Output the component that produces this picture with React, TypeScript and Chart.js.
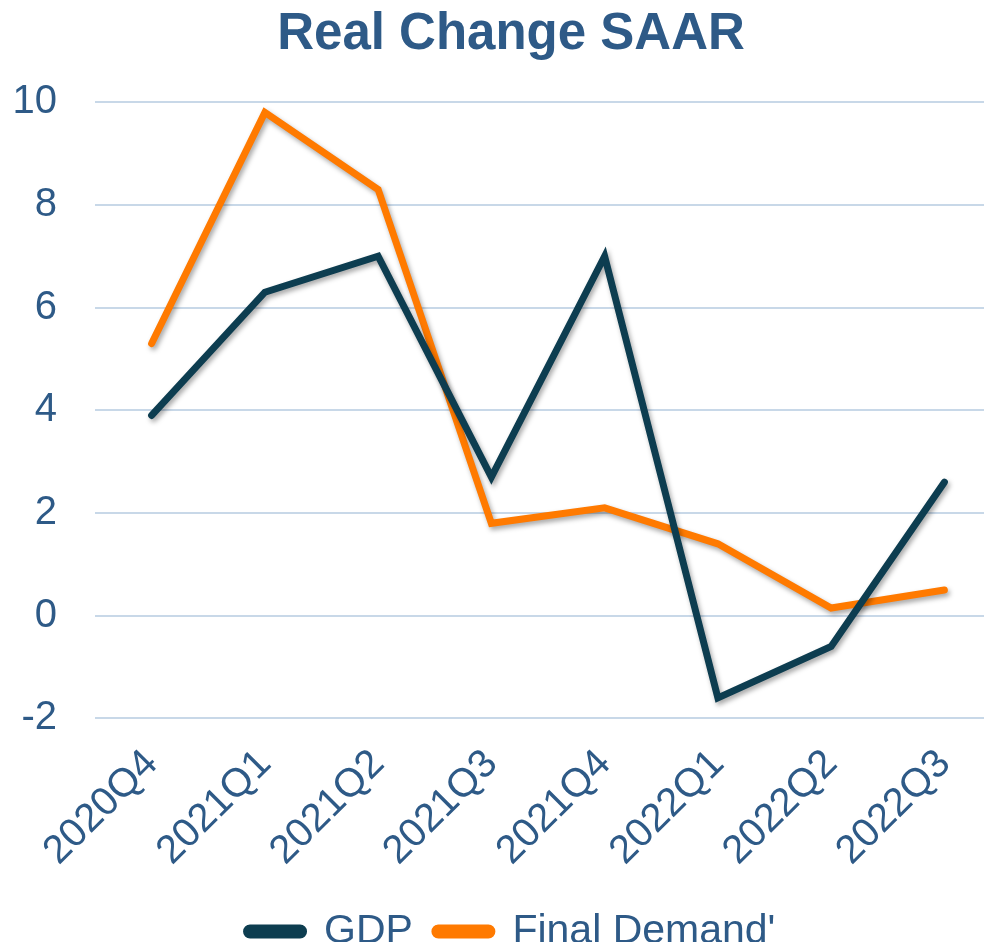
import React, { useEffect, useRef } from "react";
import { Chart, registerables } from "chart.js";

Chart.register(...registerables);

const categories = ["2020Q4", "2021Q1", "2021Q2", "2021Q3", "2021Q4", "2022Q1", "2022Q2", "2022Q3"];
const gdp = [3.9, 6.3, 7.0, 2.7, 7.0, -1.6, -0.6, 2.6];
const finalDemand = [5.3, 9.8, 8.3, 1.8, 2.1, 1.4, 0.15, 0.5];
const seriesNames = ["GDP", "Final Demand'"];
const titleText = "Real Change SAAR";

const textColor = "#2E5A87";
const font = "'Liberation Sans', Arial, sans-serif";

const shadowPlugin = {
  id: "lineShadow",
  beforeDatasetsDraw(chart: any) {
    const ctx = chart.ctx;
    ctx.save();
    ctx.shadowColor = "rgba(0,0,0,0.35)";
    ctx.shadowBlur = 5;
    ctx.shadowOffsetX = 2;
    ctx.shadowOffsetY = 3;
  },
  afterDatasetsDraw(chart: any) {
    chart.ctx.restore();
  },
};

export default function App() {
  const ref = useRef<HTMLCanvasElement | null>(null);
  useEffect(() => {
    if (!ref.current) return;
    const chart = new Chart(ref.current, {
      type: "line",
      data: {
        labels: categories,
        datasets: [
          {
            label: seriesNames[0],
            data: gdp,
            borderColor: "#0D3D50",
            backgroundColor: "#0D3D50",
            borderWidth: 7,
            borderCapStyle: "round",
            pointRadius: 0,
            tension: 0,
          },
          {
            label: seriesNames[1],
            data: finalDemand,
            borderColor: "#FF7A00",
            backgroundColor: "#FF7A00",
            borderWidth: 7,
            borderCapStyle: "round",
            pointRadius: 0,
            tension: 0,
          },
        ],
      },
      options: {
        animation: false,
        responsive: false,
        layout: { padding: { left: 12, right: -9, top: 0, bottom: -12 } },
        plugins: {
          title: {
            display: true,
            text: titleText,
            color: textColor,
            font: { family: font, size: 51, weight: "bold" },
            padding: { top: 4, bottom: 37 },
          },
          legend: {
            position: "bottom",
            labels: {
              color: textColor,
              font: { family: font, size: 41 },
              boxWidth: 57,
              boxHeight: 7,
              useBorderRadius: true,
              borderRadius: 3.5,
              padding: 22,
            },
          },
          tooltip: { enabled: false },
        },
        scales: {
          x: {
            offset: true,
            grid: { display: false },
            border: { display: false },
            afterFit: (s: any) => {
              s.paddingLeft = 0;
              s.paddingRight = 0;
            },
            ticks: {
              color: textColor,
              font: { family: font, size: 40 },
              maxRotation: 45,
              minRotation: 45,
              padding: 14,
            },
          },
          y: {
            min: -2,
            max: 10,
            grid: { color: "#C8D8E8", lineWidth: 2, drawTicks: false },
            border: { display: false },
            afterFit: (s: any) => {
              s.width = 83;
            },
            ticks: {
              stepSize: 2,
              color: textColor,
              font: { family: font, size: 40 },
              padding: 38,
            },
          },
        },
      },
      plugins: [shadowPlugin],
    });
    return () => chart.destroy();
  }, []);
  return (
    <div style={{ width: 992, height: 950, margin: -8, overflow: "hidden" }}>
      <canvas ref={ref} width={1001} height={950} style={{ display: "block" }} />
    </div>
  );
}
